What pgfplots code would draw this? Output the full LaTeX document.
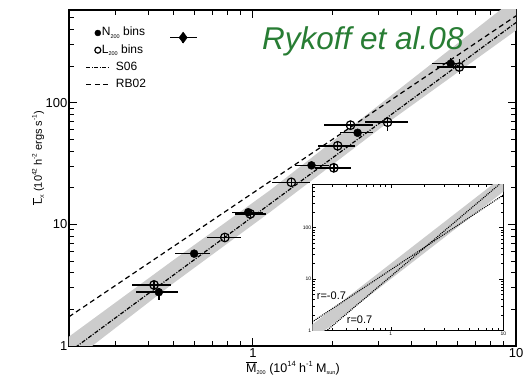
\documentclass[border=0pt]{standalone}
\usepackage{fontspec}
\setmainfont{Liberation Sans}
\usepackage{pgfplots}
\usepackage{pgfplotstable}
\pgfplotsset{compat=1.18}

\definecolor{bandgray}{gray}{0.80}
\definecolor{rgreen}{RGB}{40,125,52}

% small lowered index, as in N_200
\newcommand{\sub}[1]{\raisebox{-0.4ex}{\fontsize{5.5}{6}\selectfont #1}}
\newcommand{\sups}[1]{\raisebox{0.9ex}{\fontsize{7.5}{8}\selectfont #1}}
\newcommand{\supss}[1]{\raisebox{0.9ex}{\fontsize{6.5}{7}\selectfont #1}}

% N_200 bins: x, y and the errors below (m) and above (p)
\pgfplotstableread{
x     y     xm     xp     ym     yp
0.439 2.77  0.078  0.081  0.38   0.22
0.598 5.75  0.093  0.088  0.35   0.35
0.960 12.6  0.130  0.134  0.7    0.7
1.67  30.6  0.22   0.28   1.6    1.7
2.50  56.7  0.36   0.37   3.2    3.3
5.65  210   0.87   0.57   15     25
}\filledbins

% L_200 bins
\pgfplotstableread{
x     y     xm     xp     ym     yp
0.421 3.18  0.075  0.067  0.23   0.27
0.782 7.81  0.115  0.116  0.51   0.59
0.977 12.2  0.123  0.140  0.6    0.6
1.40  22.2  0.222  0.247  1.7    1.8
2.03  29.2  0.31   0.33   2.2    2.3
2.10  44.3  0.33   0.34   3.8    4.2
2.35  65.5  0.49   0.50   5.5    5.5
3.25  69.3  0.58   0.62   10.8   7.5
6.09  197   1.10   0.96   26     31
}\openbins

% typical error bar
\pgfplotstableread{
x     y     xm     xp     ym     yp
0.543 344   0.0595 0.071  31     34
}\samplebar

\pgfplotsset{
  errxy/.style={
    /pgfplots/error bars/x dir=both,
    /pgfplots/error bars/x explicit,
    /pgfplots/error bars/y dir=both,
    /pgfplots/error bars/y explicit,
    /pgfplots/error bars/error mark=none,
    /pgfplots/error bars/error bar style={line width=1.4pt, black},
  },
  markleg/.style={legend image code/.code={%
    \draw[mark repeat=2, mark phase=2, ##1]
      plot coordinates {(0pt,0pt) (11.5pt,0pt) (23pt,0pt)};}},
  lineleg/.style={legend image code/.code={%
    \draw[##1] (0pt,0pt) -- (23pt,0pt);}},
  s06/.style={black, line width=1.2pt, dash pattern={on 4pt off 1.5pt on 1pt off 1.5pt}},
  rb02/.style={black, line width=1.2pt, dash pattern={on 5pt off 3.5pt}},
}

\begin{document}
\begin{tikzpicture}
\useasboundingbox (0,0) rectangle (531pt,377pt);

\begin{axis}[
  at={(69pt,31pt)}, anchor=south west,
  scale only axis, width=447pt, height=336pt,
  xmode=log, ymode=log,
  xmin=0.2, xmax=10, ymin=1, ymax=580,
  axis line style={line width=1.3pt},
  tick align=inside,
  major tick length=8pt, minor tick length=5pt,
  every tick/.style={black, line width=1pt},
  xtick={1,10}, xticklabels={\textrm{1},\textrm{10}},
  ytick={1,10,100}, yticklabels={\textrm{1},\textrm{10},\textrm{100}},
  minor xtick={0.2,0.3,0.4,0.5,0.6,0.7,0.8,0.9,2,3,4,5,6,7,8,9},
  minor ytick={2,3,4,5,6,7,8,9,20,30,40,50,60,70,80,90,200,300,400,500},
  ticklabel style={font=\fontsize{13}{13}\selectfont},
  yticklabel style={inner sep=1.5pt},
  xticklabel style={inner sep=2pt},
  xlabel={\ensuremath{\overline{\mbox{M}}}\sub{200} (10\sups{14} h\sups{-1} M\sub{sun})},
  ylabel={\ensuremath{\overline{\mbox{L}}}\sub{X} (10\supss{42} h\supss{-2} ergs s\supss{-1})},
  xlabel style={font=\fontsize{12.5}{13}\selectfont,
    at={(axis description cs:0.501,-0.065)}, anchor=center},
  ylabel style={font=\fontsize{11}{12}\selectfont,
    at={(axis description cs:-0.069,0.56)}, anchor=center},
  legend style={at={(axis description cs:0.037,0.953)}, anchor=north west,
    draw=none, fill=none, font=\fontsize{12}{14}\selectfont,
    row sep=3.2pt, column sep=5pt, inner sep=0pt,
    nodes={inner sep=1pt, text height=9pt, text depth=3pt}},
  legend cell align=left,
]

% scatter band around the S06 relation
\addplot[fill=bandgray, draw=none, forget plot]
  coordinates {(0.2,1.194) (0.501,5.125) (1.16,19.05) (3.162,104) (10,733)
               (10,394) (3.162,65.6) (1.16,12.59) (0.501,3.309) (0.2,0.713)};

% S06 relation
\addplot[s06, forget plot] coordinates {(0.2,0.891) (10,457)};
% RB02 relation
\addplot[rb02, forget plot] coordinates {(0.2,1.74) (10,519)};

% L_200 bins
\addplot[forget plot, black, only marks, mark=o, mark size=4.3pt,
  mark options={line width=1.2pt}, errxy]
  table[x=x, y=y, x error minus=xm, x error plus=xp,
        y error minus=ym, y error plus=yp] {\openbins};

% N_200 bins
\addplot[forget plot, black, only marks, mark=*, mark size=4pt, errxy]
  table[x=x, y=y, x error minus=xm, x error plus=xp,
        y error minus=ym, y error plus=yp] {\filledbins};

% typical error bar
\addplot[forget plot, black, only marks, mark=diamond*, mark size=5.5pt, errxy]
  table[x=x, y=y, x error minus=xm, x error plus=xp,
        y error minus=ym, y error plus=yp] {\samplebar};

\addlegendimage{black, only marks, mark=*, mark size=3pt, markleg}
\addlegendentry{\hspace*{-14pt}N\sub{200} bins}
\addlegendimage{black, only marks, mark=o, mark size=3pt, mark options={line width=1.2pt}, markleg}
\addlegendentry{\hspace*{-14pt}L\sub{200} bins}
\addlegendimage{s06, lineleg}
\addlegendentry{S06}
\addlegendimage{rb02, lineleg}
\addlegendentry{RB02}
\end{axis}

\node[anchor=base west, inner sep=0pt, text=rgreen,
      font=\fontsize{31.5}{31.5}\selectfont\itshape] at (262pt,327pt) {Rykoff et al.08};

% inset: effect of the L-M covariance
\begin{axis}[
  at={(312.3pt,46.3pt)}, anchor=south west,
  scale only axis, width=191pt, height=146.5pt,
  xmode=log, ymode=log,
  xmin=0.2, xmax=10, ymin=1, ymax=700,
  axis background/.style={fill=white},
  axis line style={line width=1.1pt},
  tick align=inside,
  major tick length=4pt, minor tick length=2.5pt,
  every tick/.style={black, line width=0.7pt},
  xtick={1,10}, xticklabels={\textrm{1},\textrm{10}},
  ytick={1,10,100}, yticklabels={\textrm{1},\textrm{10},\textrm{100}},
  minor xtick={0.2,0.3,0.4,0.5,0.6,0.7,0.8,0.9,2,3,4,5,6,7,8,9},
  minor ytick={2,3,4,5,6,7,8,9,20,30,40,50,60,70,80,90,200,300,400,500,600},
  ticklabel style={font=\fontsize{5}{5}\selectfont, inner sep=1pt},
]
\addplot[fill=bandgray, draw=none]
  coordinates {(0.2,1.318) (10,1000) (10,501) (0.2,0.661)};
\addplot[black, line width=1.1pt, dash pattern={on 1pt off 1pt}]
  coordinates {(0.2,1.48) (10,432)};
\addplot[black, line width=1.1pt, dash pattern={on 1pt off 1pt}]
  coordinates {(0.2,0.582) (10,809)};
\end{axis}

\node[anchor=base west, inner sep=0pt, font=\fontsize{11}{11}\selectfont] at (316.7pt,77pt) {r=-0.7};
\node[anchor=base west, inner sep=0pt, font=\fontsize{11}{11}\selectfont] at (346.7pt,53pt) {r=0.7};
\end{tikzpicture}
\end{document}
